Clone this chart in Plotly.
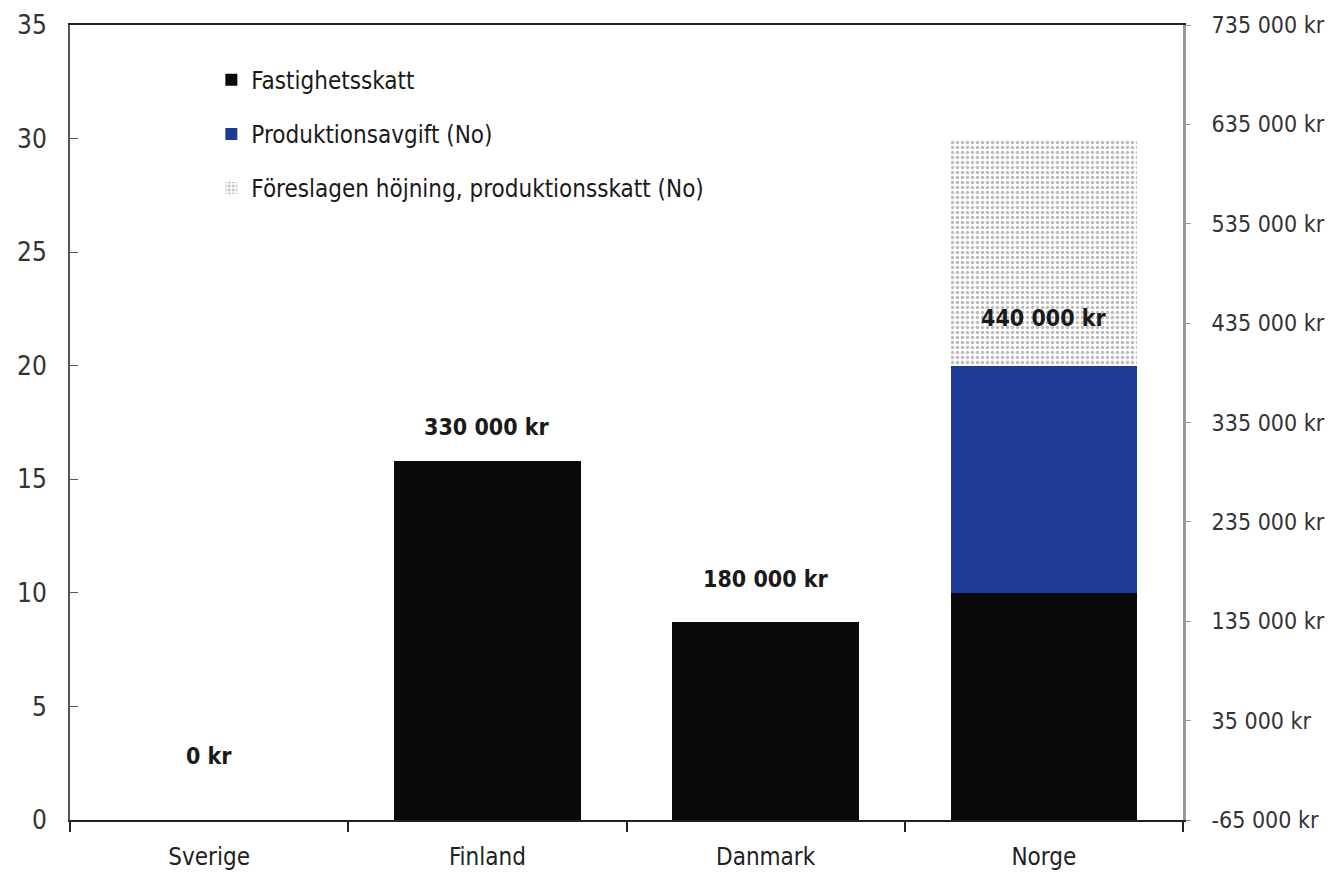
import plotly.graph_objects as go

countries = ["Sverige", "Finland", "Danmark", "Norge"]
fastighetsskatt = [0, 15.8, 8.7, 10.0]
produktionsavgift = [0, 0, 0, 10.0]
foreslagen_hojning = [0, 0, 0, 10.0]
total_labels = ["0 kr", "330 000 kr", "180 000 kr", "440 000 kr"]
label_y = [2.8, 17.3, 10.6, 22.1]

right_tickvals = [-65000, 35000, 135000, 235000, 335000, 435000, 535000, 635000, 735000]
right_ticktext = ["-65 000 kr", "35 000 kr", "135 000 kr", "235 000 kr", "335 000 kr",
                  "435 000 kr", "535 000 kr", "635 000 kr", "735 000 kr"]

FONT = "DejaVu Sans Condensed, DejaVu Sans, sans-serif"

fig = go.Figure()
fig.add_trace(go.Bar(x=countries, y=fastighetsskatt, name="Fastighetsskatt", legendgroup="a",
                     marker=dict(color="#0a0a0c", line=dict(width=0))))
fig.add_trace(go.Bar(x=countries, y=produktionsavgift, name="Produktionsavgift (No)", legendgroup="b",
                     marker=dict(color="#1f3a93", line=dict(width=0))))
fig.add_trace(go.Bar(x=countries, y=foreslagen_hojning, name="Föreslagen höjning, produktionsskatt (No)",
                     legendgroup="c",
                     marker=dict(color="white", line=dict(width=0),
                                 pattern=dict(shape=".", fgcolor="#7a7a7a", bgcolor="white",
                                              size=5, solidity=0.4))))
# invisible trace for secondary axis
fig.add_trace(go.Scatter(x=countries, y=[None]*4, yaxis="y2", showlegend=False,
                         hoverinfo="skip", mode="markers"))

for c, t, yv in zip(countries, total_labels, label_y):
    fig.add_annotation(x=c, y=yv, text="<b>" + t + "</b>", showarrow=False,
                       font=dict(family=FONT, size=23, color="#1a1a1a"))

fig.update_layout(
    barmode="stack",
    bargap=0.33,
    width=1338, height=873,
    margin=dict(l=70, r=155, t=25, b=53),
    paper_bgcolor="white", plot_bgcolor="white",
    font=dict(family=FONT, size=20, color="#333333"),
    showlegend=True,
    legend=dict(x=0.127, y=0.959, xanchor="left", yanchor="top",
                bgcolor="rgba(0,0,0,0)", font=dict(family=FONT, size=24, color="#1a1a1a"),
                tracegroupgap=20, itemwidth=30, traceorder="grouped"),
    xaxis=dict(showline=True, linecolor="#222222", linewidth=2, mirror=True,
               ticks="outside", tickson="boundaries", ticklen=10, tickcolor="#222222",
               tickwidth=2, showgrid=False, ticklabelstandoff=14, automargin=False,
               tickfont=dict(family=FONT, size=24, color="#222222")),
    yaxis=dict(range=[0, 35], dtick=5, showline=True, linecolor="#555555", linewidth=2,
               ticks="inside", ticklen=8, tickcolor="#555555", showgrid=False,
               zeroline=False, ticklabelstandoff=16, automargin=False,
               tickfont=dict(family=FONT, size=26, color="#333333")),
    yaxis2=dict(overlaying="y", side="right", range=[-65000, 735000],
                tickvals=right_tickvals, ticktext=right_ticktext, showline=True,
                linecolor="#999999", linewidth=3, ticks="outside", ticklen=5,
                tickcolor="#999999", showgrid=False, zeroline=False, ticklabelstandoff=16,
                automargin=False,
                tickfont=dict(family=FONT, size=23, color="#333333")),
)

fig.write_html("out.html")
